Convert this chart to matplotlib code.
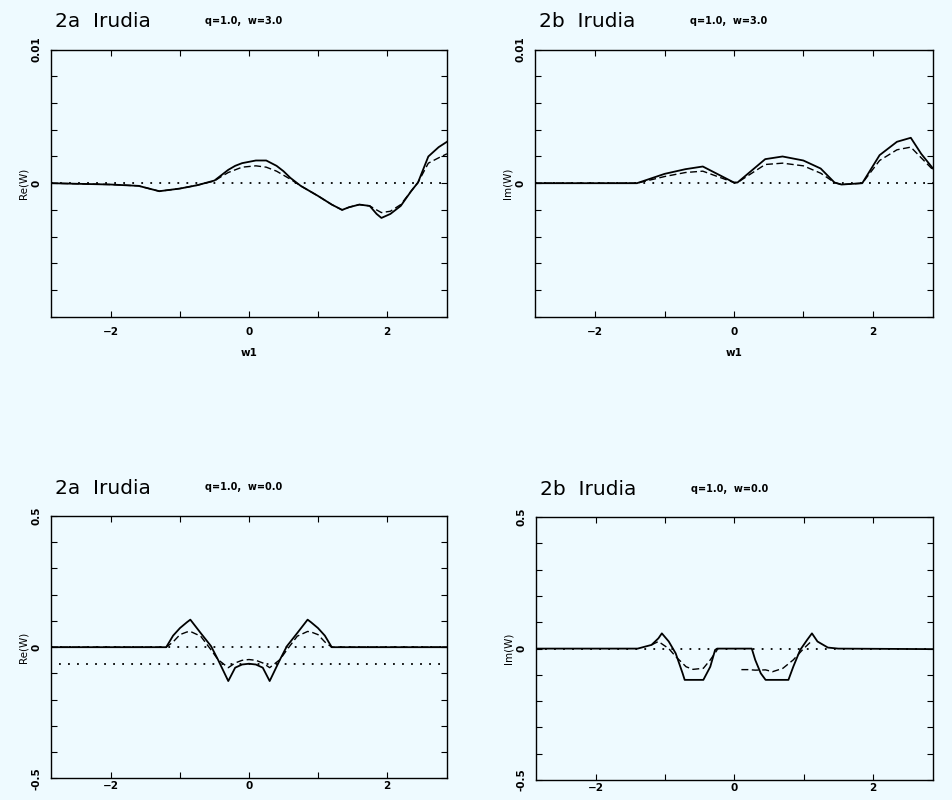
import numpy as np
import matplotlib.pyplot as plt
from matplotlib.ticker import MultipleLocator, FixedLocator, FixedFormatter

# panel 2a, w=3.0 : Re
re3_x = [-2.87, -2.0, -1.6, -1.3, -1.0, -0.75, -0.5, -0.4, -0.3, -0.2, -0.1, 0.0, 0.1, 0.25,
         0.4, 0.5, 0.6, 0.75, 1.0, 1.2, 1.35, 1.45, 1.6, 1.75, 1.85, 1.92, 2.05, 2.2, 2.35,
         2.45, 2.6, 2.75, 2.87]
re3_solid = [0.0, -0.0001, -0.0002, -0.0006, -0.0004, -0.00015, 0.0002, 0.0006, 0.001, 0.0013,
             0.0015, 0.0016, 0.0017, 0.0017, 0.0013, 0.0009, 0.0004, -0.0002, -0.00095, -0.0016,
             -0.002, -0.0018, -0.0016, -0.0017, -0.0023, -0.0026, -0.0023, -0.0017, -0.0006,
             0.00005, 0.002, 0.0027, 0.0031]
re3_dash = [0.0, -0.0001, -0.0002, -0.0006, -0.0004, -0.00015, 0.00017, 0.0005, 0.0008, 0.001,
            0.0012, 0.00125, 0.0013, 0.0012, 0.0009, 0.0006, 0.0003, -0.0002, -0.00095, -0.0016,
            -0.002, -0.0018, -0.0016, -0.0017, -0.002, -0.0022, -0.0021, -0.0016, -0.0006,
            0.00005, 0.0015, 0.0019, 0.0022]

# panel 2b, w=3.0 : Im
im3_x = [-2.87, -1.4, -1.0, -0.7, -0.45, 0.0, 0.05, 0.45, 0.7, 1.0, 1.25, 1.45, 1.55, 1.85,
         2.1, 2.35, 2.55, 2.7, 2.87]
im3_solid = [0.0, 0.0, 0.0007, 0.00105, 0.00125, 0.00005, 0.00005, 0.0018, 0.002, 0.0017,
             0.0011, 0.00005, -0.0001, 0.0, 0.0021, 0.0031, 0.0034, 0.0022, 0.0011]
im3_dash = [0.0, 0.0, 0.0005, 0.0008, 0.0009, 0.00005, 0.00005, 0.0014, 0.0015, 0.0013,
            0.00075, 0.00005, -0.0001, 0.0, 0.0017, 0.0025, 0.0027, 0.0019, 0.001]

# panel 2a, w=0.0 : Re
re0_x = [-2.87, -1.2, -1.1, -1.0, -0.9, -0.85, -0.7, -0.55, -0.45, -0.3, -0.2, -0.1, 0.0,
         0.1, 0.2, 0.3, 0.45, 0.55, 0.7, 0.85, 0.9, 1.0, 1.1, 1.2, 2.87]
re0_solid = [0.0, 0.0, 0.044, 0.073, 0.095, 0.105, 0.054, 0.004, -0.047, -0.129, -0.078, -0.066,
             -0.063, -0.066, -0.078, -0.129, -0.047, 0.004, 0.054, 0.105, 0.095, 0.073, 0.044,
             0.0, 0.0]
re0_dash = [0.0, 0.0, 0.02, 0.048, 0.058, 0.06, 0.042, -0.01, -0.047, -0.078, -0.06, -0.05,
            -0.047, -0.05, -0.06, -0.078, -0.047, -0.01, 0.042, 0.06, 0.058, 0.048, 0.02,
            0.0, 0.0]
re0_level = -0.063

# panel 2b, w=0.0 : Im
im0_x = [-2.87, -1.4, -1.2, -1.1, -1.05, -0.95, -0.85, -0.8, -0.75, -0.72, -0.45, -0.35,
         -0.28, -0.25, 0.25, 0.3, 0.38, 0.45, 0.78, 0.85, 0.95, 1.05, 1.12, 1.2, 1.35, 1.5, 2.87]
im0_solid = [0.0, 0.0, 0.014, 0.039, 0.058, 0.027, -0.018, -0.056, -0.094, -0.119, -0.119,
             -0.069, -0.005, 0.0, 0.0, -0.043, -0.094, -0.119, -0.119, -0.069, -0.005, 0.033,
             0.058, 0.027, 0.004, 0.0, -0.002]
im0_dash_x = [-1.2, -1.1, -0.95, -0.85, -0.7, -0.6, -0.45, -0.35, -0.25, np.nan,
              0.1, 0.2, 0.3, 0.45, 0.55, 0.7, 0.85, 1.0, 1.1]
im0_dash = [0.014, 0.027, 0.0, -0.03, -0.069, -0.079, -0.075, -0.043, -0.005, np.nan,
            -0.08, -0.08, -0.082, -0.081, -0.088, -0.075, -0.043, 0.0, 0.025]

bg = '#eefaff'
dot = (0, (1, 4))
dash = (0, (5, 2.5))

fig = plt.figure(figsize=(9.53, 8), dpi=100, facecolor=bg)


def style(ax, ylim, ystep, ylabels, xpad=7):
    ax.set_facecolor(bg)
    ax.set_xlim(-2.87, 2.87)
    ax.set_ylim(-ylim, ylim)
    ax.xaxis.set_major_locator(FixedLocator([-2, 0, 2]))
    ax.xaxis.set_minor_locator(FixedLocator([-1, 1]))
    ax.yaxis.set_major_locator(FixedLocator(list(ylabels.keys())))
    ax.yaxis.set_major_formatter(FixedFormatter(list(ylabels.values())))
    ax.yaxis.set_minor_locator(MultipleLocator(ystep))
    ax.tick_params(which='both', direction='in', top=True, right=True, length=4, width=0.8)
    ax.tick_params(axis='x', labelsize=7.5, pad=xpad)
    ax.tick_params(axis='y', labelsize=7.5, pad=7, labelrotation=90)
    for lab in ax.get_xticklabels() + ax.get_yticklabels():
        lab.set_fontweight('bold')
    for lab in ax.get_yticklabels():
        lab.set_va('center')
    for s in ax.spines.values():
        s.set_linewidth(1.0)


def header(ax, big, small):
    ax.text(0.01, 1.07, big, transform=ax.transAxes, fontsize=14.5, ha='left', va='bottom')
    ax.text(0.39, 1.09, small, transform=ax.transAxes, fontsize=7, fontweight='bold',
            ha='left', va='bottom')


# top left
ax1 = fig.add_axes([0.0535, 0.604, 0.4155, 0.334])
ax1.plot(re3_x, re3_solid, color='black', lw=1.3)
ax1.plot(re3_x, re3_dash, color='black', lw=1.0, linestyle=dash)
ax1.axhline(0, color='black', lw=1.3, linestyle=dot)
style(ax1, 0.01, 0.002, {0.0: '0', 0.01: '0.01'})
ax1.set_ylabel('Re(W)', fontsize=7.5, labelpad=2)
ax1.set_xlabel('w1', fontsize=7.5, fontweight='bold', labelpad=8)
header(ax1, '2a  Irudia', 'q=1.0,  w=3.0')

# top right
ax2 = fig.add_axes([0.5614, 0.604, 0.4176, 0.334])
ax2.plot(im3_x, im3_solid, color='black', lw=1.3)
ax2.plot(im3_x, im3_dash, color='black', lw=1.0, linestyle=dash)
ax2.axhline(0, color='black', lw=1.3, linestyle=dot)
style(ax2, 0.01, 0.002, {0.0: '0', 0.01: '0.01'})
ax2.set_ylabel('Im(W)', fontsize=7.5, labelpad=2)
ax2.set_xlabel('w1', fontsize=7.5, fontweight='bold', labelpad=8)
header(ax2, '2b  Irudia', 'q=1.0,  w=3.0')

# bottom left
ax3 = fig.add_axes([0.0535, 0.027, 0.4155, 0.328])
ax3.plot(re0_x, re0_solid, color='black', lw=1.3)
ax3.plot(re0_x, re0_dash, color='black', lw=1.0, linestyle=dash)
ax3.axhline(0, color='black', lw=1.3, linestyle=dot)
ax3.axhline(re0_level, xmin=0.02, color='black', lw=1.3, linestyle=dot)
style(ax3, 0.5, 0.1, {-0.5: '-0.5', 0.0: '0', 0.5: '0.5'}, xpad=2)
ax3.set_ylabel('Re(W)', fontsize=7.5, labelpad=2)
header(ax3, '2a  Irudia', 'q=1.0,  w=0.0')

# bottom right
ax4 = fig.add_axes([0.5624, 0.025, 0.4166, 0.3285])
ax4.plot(im0_x, im0_solid, color='black', lw=1.3)
ax4.plot(im0_dash_x, im0_dash, color='black', lw=1.0, linestyle=dash)
ax4.axhline(0, color='black', lw=1.3, linestyle=dot)
style(ax4, 0.5, 0.1, {-0.5: '-0.5', 0.0: '0', 0.5: '0.5'}, xpad=2)
ax4.set_ylabel('Im(W)', fontsize=7.5, labelpad=2)
header(ax4, '2b  Irudia', 'q=1.0,  w=0.0')

fig.savefig('out.png', dpi=100, facecolor=bg)
